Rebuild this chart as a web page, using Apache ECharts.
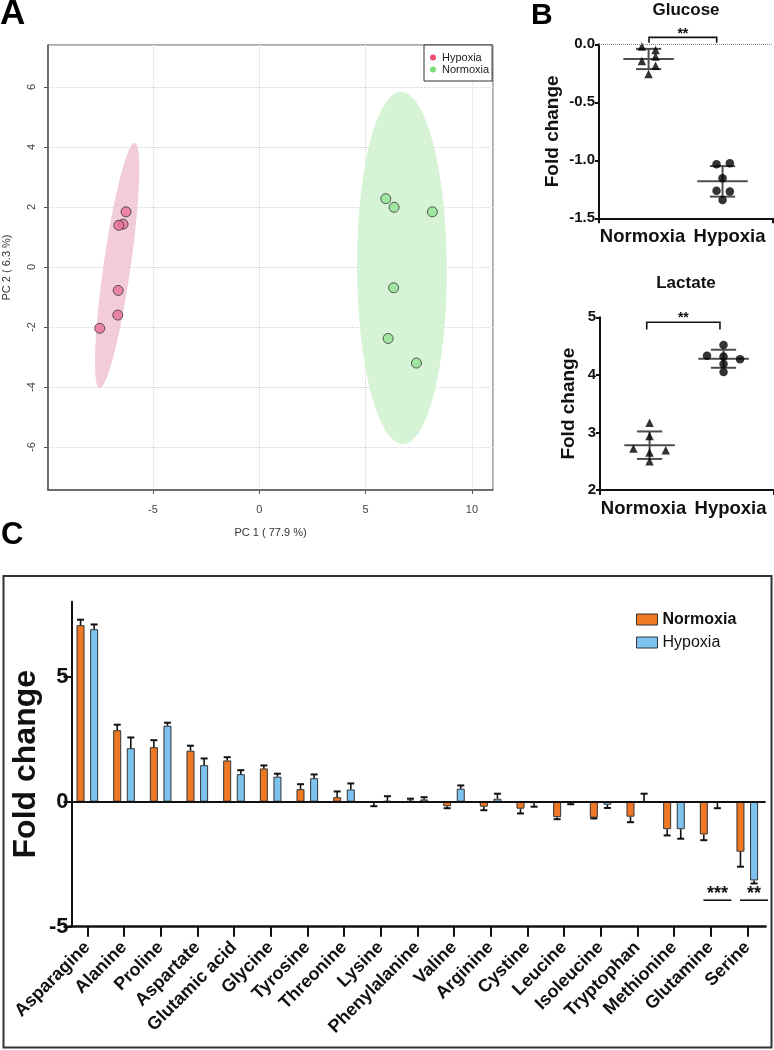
<!DOCTYPE html>
<html><head><meta charset="utf-8">
<script src="https://cdn.jsdelivr.net/npm/echarts@6/dist/echarts.min.js"></script>
<style>html,body{margin:0;padding:0;background:#fff}#c{width:774px;height:1050px}</style>
</head><body><div id="c"></div>
<script>
// ---------- DATA ----------
// Panel A: PCA scores (PC1, PC2)
const pcaHypoxia = [[-6.26, 1.84], [-6.4, 1.43], [-6.6, 1.39], [-6.63, -0.78], [-6.65, -1.6], [-7.5, -2.04]];
const pcaNormoxia = [[5.95, 2.28], [6.34, 1.99], [8.14, 1.84], [6.32, -0.69], [6.06, -2.38], [7.39, -3.2]];
// confidence ellipses: center, half-axis vectors (data units)
const ellipseHypoxia = {center: [-6.68, 0.05], a: [0.83, 4.09], b: [0.63, -0.06]};
const ellipseNormoxia = {center: [6.71, -0.03], a: [-0.04, 5.87], b: [2.11, 0]};
const pcaXName = 'PC 1 ( 77.9 %)';
const pcaYName = 'PC 2 ( 6.3 %)';

// Panel B
const groups = ['Normoxia', 'Hypoxia'];
const glucoseNormoxia = [-0.02, -0.05, -0.106, -0.144, -0.184, -0.256];
const glucoseHypoxia = [-1.034, -1.026, -1.155, -1.262, -1.27, -1.342];
const glucoseNormoxiaJitter = [-0.077, 0.08, 0.08, -0.077, 0.08, 0];
const glucoseHypoxiaJitter = [-0.069, 0.084, 0, -0.069, 0.084, 0];
const lactateNormoxia = [3.17, 2.94, 2.72, 2.69, 2.65, 2.5];
const lactateHypoxia = [4.52, 4.33, 4.32, 4.27, 4.19, 4.05];
const lactateNormoxiaJitter = [0, 0, -0.186, 0.186, 0, 0];
const lactateHypoxiaJitter = [0, -0.19, 0, 0.19, 0, 0];
const glucoseTicks = [-1.5, -1.0, -0.5, 0.0];
const lactateTicks = [2, 3, 4, 5];
const glucoseSig = '**';
const lactateSig = '**';

// Panel C
const aminoAcids = ['Asparagine', 'Alanine', 'Proline', 'Aspartate', 'Glutamic acid', 'Glycine', 'Tyrosine', 'Threonine', 'Lysine', 'Phenylalanine', 'Valine', 'Arginine', 'Cystine', 'Leucine', 'Isoleucine', 'Tryptophan', 'Methionine', 'Glutamine', 'Serine'];
const normoxiaFC = [7.06, 2.86, 2.18, 2.04, 1.65, 1.33, 0.5, 0.18, -0.03, 0.03, -0.18, -0.2, -0.28, -0.62, -0.64, -0.6, -1.1, -1.31, -2.0];
const normoxiaSD = [0.22, 0.22, 0.28, 0.2, 0.13, 0.12, 0.2, 0.23, 0.15, 0.09, 0.08, 0.14, 0.19, 0.08, 0.03, 0.22, 0.25, 0.23, 0.6];
const hypoxiaFC = [6.9, 2.14, 3.04, 1.46, 1.1, 1.0, 0.94, 0.49, 0.03, 0.09, 0.52, 0.12, -0.06, -0.03, -0.12, 0.0, -1.1, -0.03, -3.15];
const hypoxiaSD = [0.19, 0.43, 0.12, 0.27, 0.16, 0.12, 0.15, 0.24, 0.19, 0.09, 0.13, 0.2, 0.14, 0.07, 0.13, 0.32, 0.38, 0.23, 0.12];
const foldTicks = [-5, 0, 5];
const sigC = [{cat: 'Glutamine', text: '***'}, {cat: 'Serine', text: '**'}];

// ---------- HELPERS ----------
const FONT = '"Liberation Sans", Arial, Helvetica, sans-serif';
function mean(a) { return a.reduce((s, v) => s + v, 0) / a.length; }
function sdev(a) { const m = mean(a); return Math.sqrt(a.reduce((s, v) => s + (v - m) * (v - m), 0) / (a.length - 1)); }
const groupCenter = [0.57, 1.42];
const meanHalf = 0.29, capHalf = 0.145;

const chart = echarts.init(document.getElementById('c'), null, {renderer: 'canvas', width: 774, height: 1050});

function ellipseRender(ell, color) {
  return function (params, api) {
    if (params.dataIndex !== 0) return null;
    const pts = [];
    for (let i = 0; i < 120; i++) {
      const t = i / 120 * Math.PI * 2;
      pts.push(api.coord([
        ell.center[0] + ell.a[0] * Math.cos(t) + ell.b[0] * Math.sin(t),
        ell.center[1] + ell.a[1] * Math.cos(t) + ell.b[1] * Math.sin(t)
      ]));
    }
    return {type: 'polygon', shape: {points: pts}, style: {fill: color}};
  };
}

function statsRender(params, api) {
  const cx = api.value(0), m = api.value(1), s = api.value(2);
  const P = (x, y) => api.coord([x, y]);
  const L = P(cx - meanHalf, m), R = P(cx + meanHalf, m);
  const T = P(cx, m + s), B = P(cx, m - s);
  const TL = P(cx - capHalf, m + s), TR = P(cx + capHalf, m + s);
  const BL = P(cx - capHalf, m - s), BR = P(cx + capHalf, m - s);
  const st = {stroke: '#4d4d4d', lineWidth: 2};
  const ln = (a, b) => ({type: 'line', shape: {x1: a[0], y1: a[1], x2: b[0], y2: b[1]}, style: st});
  return {type: 'group', children: [ln(L, R), ln(T, B), ln(TL, TR), ln(BL, BR)]};
}

function bracketRender(text) {
  return function (params, api) {
    const x1 = api.value(0), x2 = api.value(1), y = api.value(2), leg = api.value(3), ty = api.value(4);
    const p1 = api.coord([x1, leg]), p2 = api.coord([x1, y]), p3 = api.coord([x2, y]), p4 = api.coord([x2, leg]);
    const pt = api.coord([(x1 + x2) / 2, ty]);
    return {type: 'group', children: [
      {type: 'polyline', shape: {points: [p1, p2, p3, p4]}, style: {stroke: '#111', lineWidth: 1.6, fill: null}},
      {type: 'text', x: pt[0], y: pt[1], style: {text: text, fontSize: 14, fontWeight: 'bold', fontFamily: FONT, fill: '#111', align: 'center', verticalAlign: 'middle'}}
    ]};
  };
}

const barW = 8, barGapRatio = 0.7;
function errRender(params, api) {
  const ci = api.value(0), v = api.value(1), e = api.value(2), s = api.value(3);
  const off = (s === 0 ? -1 : 1) * barW * (1 + barGapRatio) / 2;
  const dir = v >= 0 ? 1 : -1;
  const a = api.coord([ci, v]), b = api.coord([ci, v + dir * e]);
  const x = a[0] + off;
  return {type: 'group', children: [
    {type: 'line', shape: {x1: x, y1: a[1], x2: x, y2: b[1]}, style: {stroke: '#111', lineWidth: 1.6}},
    {type: 'line', shape: {x1: x - 3.5, y1: b[1], x2: x + 3.5, y2: b[1]}, style: {stroke: '#111', lineWidth: 2}}
  ]};
}

function sigRender(params, api) {
  const ci = api.value(0);
  const item = sigC[params.dataIndex];
  const off = barW * (1 + barGapRatio) / 2;
  const t = api.coord([ci, -3.68]), l = api.coord([ci, -3.94]);
  const x = t[0] + off;
  return {type: 'group', children: [
    {type: 'text', x: x, y: t[1], style: {text: item.text, fontSize: 18, fontWeight: 'bold', fontFamily: FONT, fill: '#111', align: 'center', verticalAlign: 'middle'}},
    {type: 'line', shape: {x1: x - 14, y1: l[1], x2: x + 14, y2: l[1]}, style: {stroke: '#111', lineWidth: 1.6}}
  ]};
}

const boldAxis = {color: '#111', width: 2};

const option = {
  animation: false,
  backgroundColor: '#fff',
  textStyle: {fontFamily: FONT},
  grid: [
    {left: 48, top: 45, width: 445, height: 445, show: true, borderColor: '#555', borderWidth: 1, backgroundColor: '#fff', containLabel: false, outerBoundsMode: 'none'},
    {left: 599, top: 44.3, width: 174, height: 174, containLabel: false, outerBoundsMode: 'none'},
    {left: 600, top: 317.3, width: 174, height: 172.7, containLabel: false, outerBoundsMode: 'none'},
    {left: 69, top: 601.7, width: 696.6, height: 325, containLabel: false, outerBoundsMode: 'none'}
  ],
  xAxis: [
    {type: 'value', gridIndex: 0, min: -9.93, max: 10.99, splitNumber: 4, minInterval: 5, maxInterval: 5,
      name: pcaXName, nameLocation: 'middle', nameGap: 37, nameTextStyle: {fontSize: 11, color: '#333', fontFamily: FONT},
      axisLine: {show: true, onZero: false, lineStyle: {color: '#555', width: 1.5}},
      axisTick: {show: true, length: 4, lineStyle: {color: '#555'}},
      axisLabel: {fontSize: 11, color: '#444', margin: 14, showMinLabel: false, showMaxLabel: false},
      splitLine: {show: true, lineStyle: {color: '#d4d4d4', type: 'dotted', width: 1}}},
    {type: 'category', gridIndex: 1, data: groups, boundaryGap: true, position: 'bottom',
      axisLine: {onZero: false, lineStyle: boldAxis},
      axisTick: {show: true, length: 5, interval: (i) => i === 1, lineStyle: boldAxis},
      axisLabel: {fontSize: 18.5, fontWeight: 'bold', color: '#111', margin: 9, interval: 0}},
    {type: 'value', gridIndex: 1, min: 0, max: 2, show: false},
    {type: 'category', gridIndex: 2, data: groups, boundaryGap: true, position: 'bottom',
      axisLine: {onZero: false, lineStyle: boldAxis},
      axisTick: {show: true, length: 5, interval: (i) => i === 1, lineStyle: boldAxis},
      axisLabel: {fontSize: 18.5, fontWeight: 'bold', color: '#111', margin: 9, interval: 0}},
    {type: 'value', gridIndex: 2, min: 0, max: 2, show: false},
    {type: 'category', gridIndex: 3, data: aminoAcids, boundaryGap: true, position: 'bottom',
      axisLine: {onZero: false, lineStyle: {color: '#111', width: 2.5}},
      axisTick: {show: true, alignWithLabel: true, length: 10, lineStyle: boldAxis},
      axisLabel: {rotate: 45, interval: 0, fontSize: 18, fontWeight: 'bold', color: '#111', margin: 18}}
  ],
  yAxis: [
    {type: 'value', gridIndex: 0, min: -7.43, max: 7.4, splitNumber: 7, minInterval: 2, maxInterval: 2,
      name: pcaYName, nameLocation: 'middle', nameGap: 36, nameTextStyle: {fontSize: 11, color: '#333', fontFamily: FONT},
      axisLine: {show: true, onZero: false, lineStyle: {color: '#555', width: 1.5}},
      axisTick: {show: true, length: 4, lineStyle: {color: '#555'}},
      axisLabel: {fontSize: 11, color: '#444', rotate: 90, margin: 11, showMinLabel: false, showMaxLabel: false},
      splitLine: {show: true, lineStyle: {color: '#d4d4d4', type: 'dotted', width: 1}}},
    {type: 'value', gridIndex: 1, min: -1.5, max: 0, interval: 0.5,
      name: 'Fold change', nameLocation: 'middle', nameGap: 37, nameTextStyle: {fontSize: 19, fontWeight: 'bold', color: '#111'},
      axisLine: {show: true, onZero: false, lineStyle: boldAxis},
      axisTick: {show: true, length: 4, lineStyle: boldAxis, customValues: glucoseTicks},
      axisLabel: {fontSize: 15, fontWeight: 'bold', color: '#111', margin: 4, customValues: glucoseTicks, formatter: (v) => Number(v).toFixed(1)},
      splitLine: {show: false}},
    {type: 'value', gridIndex: 2, min: 2, max: 5, interval: 1,
      name: 'Fold change', nameLocation: 'middle', nameGap: 22, nameTextStyle: {fontSize: 19, fontWeight: 'bold', color: '#111'},
      axisLine: {show: true, onZero: false, lineStyle: boldAxis},
      axisTick: {show: true, length: 4, lineStyle: boldAxis, customValues: lactateTicks},
      axisLabel: {fontSize: 15, fontWeight: 'bold', color: '#111', margin: 4, customValues: lactateTicks},
      splitLine: {show: false}},
    {type: 'value', gridIndex: 3, min: -5, max: 8, interval: 5, offset: -2.5,
      name: 'Fold change', nameLocation: 'middle', nameGap: 29, nameMoveOverlap: false, nameTextStyle: {fontSize: 32, fontWeight: 'bold', color: '#111'},
      axisLine: {show: true, onZero: false, lineStyle: boldAxis},
      axisTick: {show: true, length: 8, lineStyle: boldAxis, customValues: foldTicks},
      axisLabel: {fontSize: 22, fontWeight: 'bold', color: '#111', margin: 3, customValues: foldTicks},
      splitLine: {show: false}}
  ],
  legend: [
    {left: 424, top: 45, orient: 'vertical', itemWidth: 8, itemHeight: 6, itemGap: 1, padding: [7, 3, 6, 6],
      borderColor: '#333', borderWidth: 1, backgroundColor: '#fff', icon: 'circle', selectedMode: false,
      textStyle: {fontSize: 11, color: '#222', fontFamily: FONT},
      formatter: (n) => n.replace('pca', ''),
      data: [{name: 'pcaHypoxia', itemStyle: {color: '#E8204F', borderWidth: 0}}, {name: 'pcaNormoxia', itemStyle: {color: '#58D458', borderWidth: 0}}]},
    {left: 636, top: 611.5, orient: 'vertical', itemWidth: 21, itemHeight: 11, itemGap: 7, padding: 0, icon: 'rect', selectedMode: false,
      itemStyle: {borderColor: '#333', borderWidth: 1},
      textStyle: {fontSize: 16, color: '#111', fontFamily: FONT, rich: {b: {fontSize: 16, fontWeight: 'bold', fontFamily: FONT, color: '#111'}, n: {fontSize: 16, fontFamily: FONT, color: '#111'}}},
      formatter: (n) => n === 'barNormoxia' ? '{b|Normoxia}' : '{n|Hypoxia}',
      data: ['barNormoxia', 'barHypoxia']}
  ],
  series: [
    // Panel A
    {type: 'custom', name: 'ellH', xAxisIndex: 0, yAxisIndex: 0, silent: true, z: 1, clip: true,
      renderItem: ellipseRender(ellipseHypoxia, '#F2CCDB'), data: [ellipseHypoxia.center]},
    {type: 'custom', name: 'ellN', xAxisIndex: 0, yAxisIndex: 0, silent: true, z: 1, clip: true,
      renderItem: ellipseRender(ellipseNormoxia, '#D6F3D6'), data: [ellipseNormoxia.center]},
    {type: 'scatter', name: 'pcaHypoxia', xAxisIndex: 0, yAxisIndex: 0, z: 3, symbolSize: 10,
      itemStyle: {color: '#E8709A', borderColor: '#333', borderWidth: 1}, data: pcaHypoxia},
    {type: 'scatter', name: 'pcaNormoxia', xAxisIndex: 0, yAxisIndex: 0, z: 3, symbolSize: 10,
      itemStyle: {color: '#92E292', borderColor: '#333', borderWidth: 1}, data: pcaNormoxia},
    // Panel B glucose
    {type: 'scatter', name: 'gluN', xAxisIndex: 2, yAxisIndex: 1, symbol: 'triangle', symbolSize: 8.5,
      itemStyle: {color: '#000'}, clip: false,
      data: glucoseNormoxia.map((v, i) => [groupCenter[0] + glucoseNormoxiaJitter[i], v]),
      markLine: {silent: true, symbol: 'none', label: {show: false}, lineStyle: {type: 'dotted', color: '#888', width: 1}, data: [{yAxis: 0}]}},
    {type: 'scatter', name: 'gluH', xAxisIndex: 2, yAxisIndex: 1, symbol: 'circle', symbolSize: 8.5,
      itemStyle: {color: '#000'}, clip: false,
      data: glucoseHypoxia.map((v, i) => [groupCenter[1] + glucoseHypoxiaJitter[i], v])},
    {type: 'custom', name: 'gluStats', xAxisIndex: 2, yAxisIndex: 1, silent: true, z: 1, clip: false, renderItem: statsRender,
      data: [[groupCenter[0], mean(glucoseNormoxia), sdev(glucoseNormoxia)], [groupCenter[1], mean(glucoseHypoxia), sdev(glucoseHypoxia)]]},
    {type: 'custom', name: 'gluSig', xAxisIndex: 2, yAxisIndex: 1, silent: true, clip: false, renderItem: bracketRender(glucoseSig),
      data: [[0.575, 1.353, 0.06, 0.014, 0.085]]},
    // Panel B lactate
    {type: 'scatter', name: 'lacN', xAxisIndex: 4, yAxisIndex: 2, symbol: 'triangle', symbolSize: 8.5,
      itemStyle: {color: '#000'}, clip: false,
      data: lactateNormoxia.map((v, i) => [groupCenter[0] + lactateNormoxiaJitter[i], v])},
    {type: 'scatter', name: 'lacH', xAxisIndex: 4, yAxisIndex: 2, symbol: 'circle', symbolSize: 8.5,
      itemStyle: {color: '#000'}, clip: false,
      data: lactateHypoxia.map((v, i) => [groupCenter[1] + lactateHypoxiaJitter[i], v])},
    {type: 'custom', name: 'lacStats', xAxisIndex: 4, yAxisIndex: 2, silent: true, z: 1, clip: false, renderItem: statsRender,
      data: [[groupCenter[0], mean(lactateNormoxia), sdev(lactateNormoxia)], [groupCenter[1], mean(lactateHypoxia), sdev(lactateHypoxia)]]},
    {type: 'custom', name: 'lacSig', xAxisIndex: 4, yAxisIndex: 2, silent: true, clip: false, renderItem: bracketRender(lactateSig),
      data: [[0.537, 1.379, 4.913, 4.79, 4.985]]},
    // Panel C
    {type: 'bar', name: 'barNormoxia', xAxisIndex: 5, yAxisIndex: 3, barWidth: barW, barGap: (barGapRatio * 100) + '%',
      itemStyle: {color: '#EE7824', borderColor: '#333', borderWidth: 1}, data: normoxiaFC,
      markLine: {silent: true, symbol: 'none', label: {show: false}, lineStyle: {type: 'solid', color: '#111', width: 2}, data: [{yAxis: 0}]}},
    {type: 'bar', name: 'barHypoxia', xAxisIndex: 5, yAxisIndex: 3, barWidth: barW,
      itemStyle: {color: '#7EC3F0', borderColor: '#333', borderWidth: 1}, data: hypoxiaFC},
    {type: 'custom', name: 'errC', xAxisIndex: 5, yAxisIndex: 3, silent: true, z: 4, clip: false, renderItem: errRender,
      data: aminoAcids.map((c, i) => [i, normoxiaFC[i], normoxiaSD[i], 0]).concat(aminoAcids.map((c, i) => [i, hypoxiaFC[i], hypoxiaSD[i], 1]))},
    {type: 'custom', name: 'sigC', xAxisIndex: 5, yAxisIndex: 3, silent: true, z: 4, clip: false, renderItem: sigRender,
      data: sigC.map((s) => [aminoAcids.indexOf(s.cat), 0])}
  ],
  graphic: [
    {type: 'rect', shape: {x: 3.5, y: 576, width: 768, height: 471.5}, style: {fill: null, stroke: '#333', lineWidth: 2}, silent: true, z: 0},
    {type: 'text', x: 0, y: 14.5, style: {text: 'A', fontSize: 35, fontWeight: 'bold', fontFamily: FONT, fill: '#000', align: 'left', verticalAlign: 'middle'}},
    {type: 'text', x: 531, y: 16, style: {text: 'B', fontSize: 30, fontWeight: 'bold', fontFamily: FONT, fill: '#000', align: 'left', verticalAlign: 'middle'}},
    {type: 'text', x: 1, y: 535.5, style: {text: 'C', fontSize: 31, fontWeight: 'bold', fontFamily: FONT, fill: '#000', align: 'left', verticalAlign: 'middle'}},
    {type: 'text', x: 686, y: 10.5, style: {text: 'Glucose', fontSize: 17, fontWeight: 'bold', fontFamily: FONT, fill: '#111', align: 'center', verticalAlign: 'middle'}},
    {type: 'text', x: 686, y: 283, style: {text: 'Lactate', fontSize: 17, fontWeight: 'bold', fontFamily: FONT, fill: '#111', align: 'center', verticalAlign: 'middle'}}
  ]
};
chart.setOption(option);
</script>
</body></html>
